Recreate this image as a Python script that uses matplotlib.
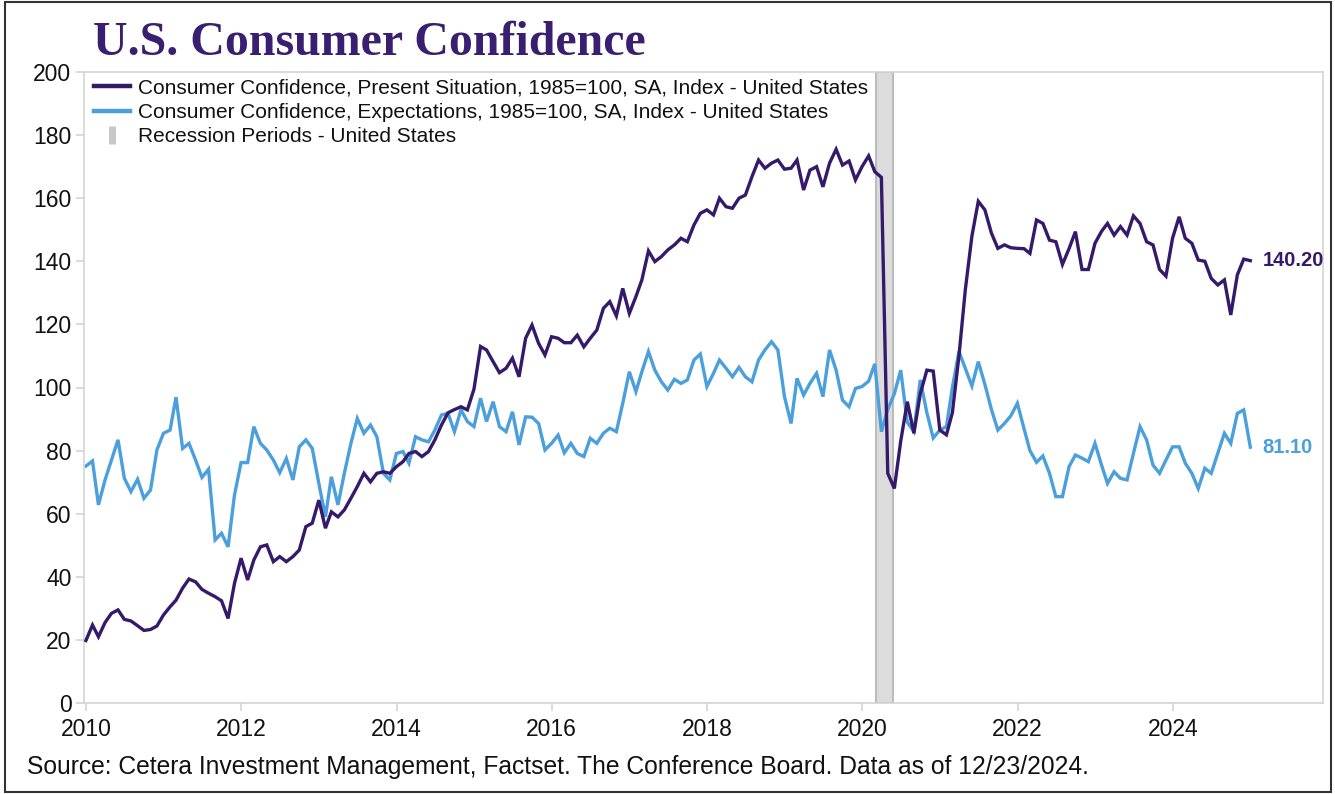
import numpy as np
import pandas as pd
import matplotlib
matplotlib.use("Agg")
import matplotlib.pyplot as plt
import matplotlib.dates as mdates
from matplotlib.lines import Line2D
from matplotlib.patches import Rectangle

plt.rcParams['font.family'] = ['Liberation Sans', 'DejaVu Sans']

# ---------------- data (monthly, Dec 2009 .. Dec 2024) ----------------
start_month = "2009-12"
present_situation = [
    19.8,
    24.7, 21.0, 25.5, 28.4, 29.5, 26.5, 26.0, 24.5, 23.0, 23.3, 24.4, 27.9,        # 2010
    30.5, 32.6, 36.4, 39.3, 38.4, 36.0, 34.8, 33.7, 32.4, 26.8, 37.9, 45.9,        # 2011
    39.0, 45.3, 49.5, 50.1, 44.8, 46.4, 44.8, 46.4, 48.5, 55.9, 57.0, 64.3,        # 2012
    55.4, 60.6, 59.0, 61.2, 64.9, 68.6, 72.8, 70.1, 72.8, 73.3, 72.8, 74.9,        # 2013
    76.5, 79.1, 79.7, 78.1, 79.7, 83.4, 88.1, 92.0, 93.0, 93.9, 92.9, 99.5,        # 2014
    113.0, 111.9, 108.2, 104.7, 106.1, 109.3, 103.4, 115.6, 119.8, 114.0, 110.3, 116.1,  # 2015
    115.6, 114.2, 114.2, 116.6, 112.9, 115.6, 118.2, 125.1, 127.2, 122.7, 131.4, 123.5,  # 2016
    128.8, 134.1, 143.3, 139.9, 141.5, 143.6, 145.2, 147.3, 146.2, 151.5, 155.2, 156.3,  # 2017
    154.7, 160.0, 157.3, 156.8, 160.0, 161.0, 166.8, 172.1, 169.5, 171.1, 172.1, 169.2,  # 2018
    169.5, 172.1, 162.6, 168.9, 170.0, 163.6, 171.1, 175.5, 170.5, 171.8, 165.8, 170.0,  # 2019
    173.4, 168.4, 166.6, 72.8, 68.0, 83.0, 95.5, 85.5, 98.0, 105.5, 105.2, 86.5,         # 2020
    85.0, 92.0, 110.0, 131.0, 148.0, 159.0, 156.3, 148.9, 144.1, 145.2, 144.3, 144.1,    # 2021
    144.0, 142.5, 153.1, 152.0, 146.7, 146.2, 139.0, 144.0, 149.4, 137.4, 137.4, 145.7,  # 2022
    149.5, 152.0, 148.3, 151.0, 148.3, 154.4, 152.0, 146.2, 145.2, 137.4, 135.3, 147.3,  # 2023
    154.1, 147.3, 145.7, 140.4, 140.0, 134.6, 132.5, 134.1, 123.0, 135.7, 140.7, 140.2,  # 2024
]
expectations = [
    75.1,
    76.7, 62.8, 70.7, 77.0, 83.4, 71.2, 67.0, 70.9, 64.9, 67.5, 80.2, 85.5,        # 2010
    86.5, 96.9, 80.7, 82.3, 77.0, 71.5, 74.1, 51.7, 53.8, 49.5, 65.9, 76.2,        # 2011
    76.2, 87.6, 82.3, 80.2, 77.0, 73.0, 77.5, 70.7, 81.2, 83.4, 80.7, 69.6,        # 2012
    59.0, 71.7, 62.8, 72.8, 82.3, 90.2, 85.5, 88.1, 84.4, 72.8, 70.7, 79.1,        # 2013
    79.7, 76.0, 84.4, 83.4, 82.8, 86.5, 91.3, 91.8, 86.0, 92.9, 89.2, 87.6,        # 2014
    96.6, 89.2, 95.5, 87.6, 86.0, 92.3, 81.8, 90.7, 90.6, 88.6, 80.2, 82.3,        # 2015
    84.9, 79.3, 82.3, 79.1, 78.1, 83.9, 82.3, 85.5, 87.1, 86.0, 95.0, 105.0,       # 2016
    98.7, 105.0, 111.4, 105.5, 101.8, 99.2, 102.6, 101.3, 102.4, 108.7, 110.6, 100.3,  # 2017
    104.5, 108.7, 106.1, 103.4, 106.4, 103.4, 101.8, 108.7, 111.9, 114.5, 111.9, 97.1,  # 2018
    88.6, 102.9, 97.6, 101.3, 104.5, 97.1, 111.9, 105.5, 96.0, 93.9, 99.7, 100.3,      # 2019
    102.0, 107.5, 86.0, 93.0, 98.0, 105.5, 89.0, 86.0, 102.4, 92.0, 84.0, 86.5,        # 2020
    87.6, 100.0, 111.4, 106.0, 100.5, 108.2, 101.0, 93.0, 86.5, 88.6, 91.0, 95.0,      # 2021
    87.0, 80.0, 76.3, 78.3, 72.8, 65.4, 65.4, 74.9, 78.6, 77.6, 76.5, 82.3,            # 2022
    75.4, 69.6, 73.3, 71.2, 70.7, 79.1, 87.6, 83.4, 75.4, 72.8, 77.0, 81.2,            # 2023
    81.2, 76.0, 72.8, 68.0, 74.4, 72.8, 79.1, 85.5, 82.3, 91.8, 92.9, 81.1,            # 2024
]
recession_start = "2020-03-05"
recession_end = "2020-05-27"
legend_labels = [
    "Consumer Confidence, Present Situation, 1985=100, SA, Index - United States",
    "Consumer Confidence, Expectations, 1985=100, SA, Index - United States",
    "Recession Periods - United States",
]
title = "U.S. Consumer Confidence"
source = "Source: Cetera Investment Management, Factset. The Conference Board. Data as of 12/23/2024."

dates = pd.date_range(start=start_month, periods=len(present_situation), freq="ME")

DARK = "#35196b"
LIGHT = "#4a9fdc"
SPINE = "#d4d4d4"

fig = plt.figure(figsize=(13.35, 7.94), dpi=100)
ax = fig.add_axes([84 / 1335, 1 - 703 / 794, (1323 - 84) / 1335, (703 - 72) / 794])

ax.axvspan(pd.Timestamp(recession_start), pd.Timestamp(recession_end),
           facecolor="#dcdcdc", edgecolor="#bcbcbc", lw=1.5, zorder=1)
ax.plot(dates, present_situation, color=DARK, lw=2.4, zorder=3,
        solid_joinstyle="miter")
ax.plot(dates, expectations, color=LIGHT, lw=2.4, zorder=2,
        solid_joinstyle="miter")

ax.set_ylim(0, 200)
ax.set_yticks(np.arange(0, 201, 20))
ax.set_xlim(pd.Timestamp("2009-12-22"), pd.Timestamp("2025-12-08"))
ax.xaxis.set_major_locator(mdates.YearLocator(2))
ax.xaxis.set_major_formatter(mdates.DateFormatter("%Y"))

for s in ax.spines.values():
    s.set_color(SPINE)
    s.set_linewidth(1.2)
ax.tick_params(axis="both", colors=SPINE, labelcolor="#111111", labelsize=16.5,
               length=6, width=1.2, direction="out")
ax.tick_params(axis="x", pad=5)
ax.tick_params(axis="y", pad=3)

# end-of-series labels
ax.annotate(f"{present_situation[-1]:.2f}", (dates[-1], present_situation[-1]),
            xytext=(9, 0), textcoords="offset points", va="center", ha="left",
            color=DARK, fontsize=14.5, fontweight="bold")
ax.annotate(f"{expectations[-1]:.2f}", (dates[-1], expectations[-1]),
            xytext=(9, 0), textcoords="offset points", va="center", ha="left",
            color=LIGHT, fontsize=14.5, fontweight="bold")

handles = [
    Line2D([], [], color=DARK, lw=3.2),
    Line2D([], [], color=LIGHT, lw=3.2),
    Line2D([], [], color="#c8c8c8", marker="|", markersize=13, markeredgewidth=5,
           linestyle="none"),
]
leg = ax.legend(handles, legend_labels, loc="upper left", frameon=False,
                fontsize=15, handlelength=1.73, handletextpad=0.36,
                labelspacing=0.25, borderaxespad=0.1,
                bbox_to_anchor=(0.0, 1.006))
for t in leg.get_texts():
    t.set_color("#111111")

fig.text(93 / 1335, 1 - 43 / 794, title, fontsize=34.5, fontweight="bold",
         family=["Liberation Serif", "DejaVu Serif"], color="#3a1f70",
         va="center", ha="left")
fig.text(27 / 1335, 1 - 767 / 794, source, fontsize=17.75, color="#111111",
         va="center", ha="left")

fig.add_artist(Rectangle((0.004, 0.003), 0.993, 0.994, transform=fig.transFigure,
                         fill=False, edgecolor="#333333", lw=1.5))

fig.savefig("out.png", dpi=100)
